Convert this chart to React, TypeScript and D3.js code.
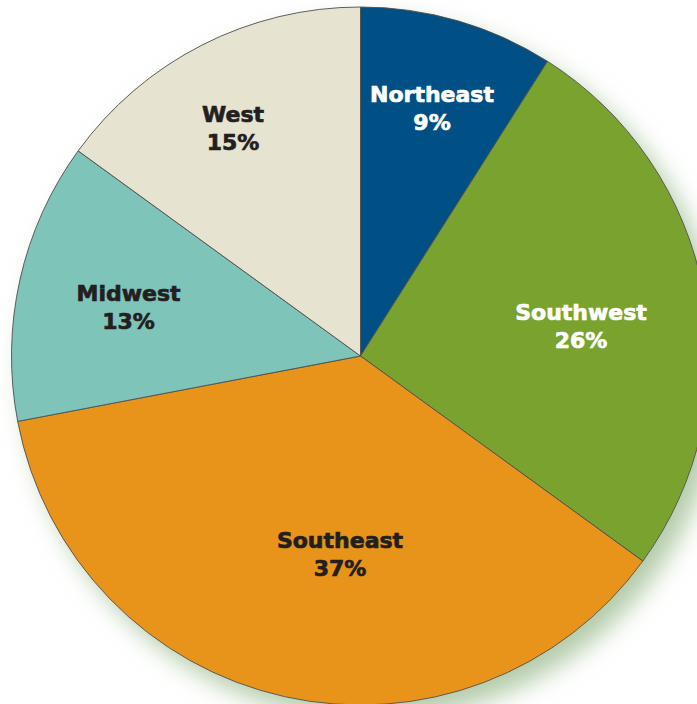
import React from "react";
import * as d3 from "d3";

const regions = ["Northeast", "Southwest", "Southeast", "Midwest", "West"];
const shares = [9, 26, 37, 13, 15];
const colors = ["#005085", "#7aa22f", "#e8941a", "#7fc4b8", "#e6e4d0"];
const textColors = ["#ffffff", "#ffffff", "#231f20", "#231f20", "#231f20"];
// label anchor offsets from the pie centre (layout only)
const labelOffsets: [number, number][] = [
  [71.5, -254.5],
  [220.5, -36],
  [-20.5, 192],
  [-232, -55],
  [-127.5, -234],
];

const W = 697;
const H = 704;
const cx = 360.5;
const cy = 356;
const R = 349;

export default function App() {
  const pie = d3.pie<number>().sort(null).value((d) => d)(shares);
  const arc = d3.arc<d3.PieArcDatum<number>>().innerRadius(0).outerRadius(R);
  return (
    <svg
      width={W}
      height={H}
      style={{ position: "absolute", left: 0, top: 0, background: "#fff" }}
    >
      <defs>
        <filter id="shadow" x="-20%" y="-20%" width="140%" height="140%">
          <feGaussianBlur in="SourceAlpha" stdDeviation="12" result="blur" />
          <feOffset in="blur" dx="12" dy="14" result="off" />
          <feFlood floodColor="#93b585" floodOpacity="0.7" />
          <feComposite in2="off" operator="in" result="sh" />
          <feMerge>
            <feMergeNode in="sh" />
            <feMergeNode in="SourceGraphic" />
          </feMerge>
        </filter>
      </defs>
      <g transform={`translate(${cx},${cy})`}>
        <circle r={R} fill="#ffffff" filter="url(#shadow)" />
        {pie.map((p, i) => (
          <path
            key={regions[i]}
            d={arc(p) || ""}
            fill={colors[i]}
            stroke="#4d4d4d"
            strokeWidth={0.9}
          />
        ))}
        {pie.map((p, i) => (
          <text
            key={"t" + regions[i]}
            transform={`translate(${labelOffsets[i][0]},${labelOffsets[i][1]})`}
            textAnchor="middle"
            fill={textColors[i]}
            stroke={textColors[i]}
            strokeWidth={0.7}
            fontFamily="'DejaVu Sans', sans-serif"
            fontWeight="bold"
            fontSize={22}
          >
            <tspan x={0} y={0}>
              {regions[i]}
            </tspan>
            <tspan x={0} y={28}>
              {shares[i]}%
            </tspan>
          </text>
        ))}
      </g>
    </svg>
  );
}
